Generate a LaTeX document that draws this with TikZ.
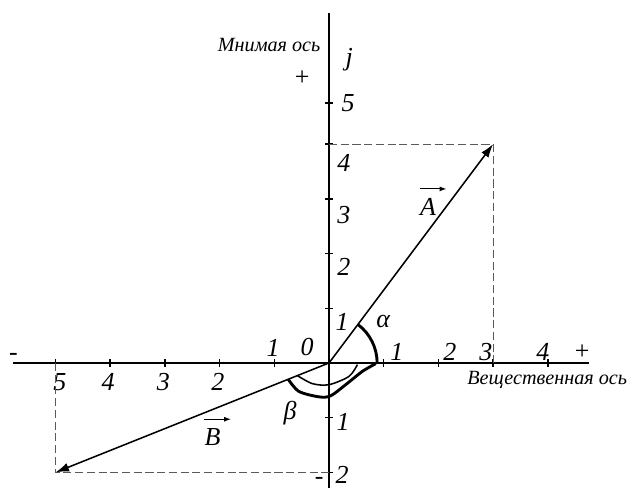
\documentclass[tikz,border=0pt]{standalone}
\usepackage{fontspec}
\setmainfont{Liberation Serif}
\usetikzlibrary{arrows.meta}

\begin{document}
\begin{tikzpicture}[x=1cm,y=1cm,
  axis/.style={black, line width=1pt},
  tickmark/.style={black, line width=0.8pt},
  vect/.style={black, line width=0.8pt, -{Latex[length=7pt,width=4.6pt]}},
  overarr/.style={black, line width=0.5pt, -{Latex[length=3.6pt,width=2.6pt]}},
  proj/.style={black!65, line width=0.5pt, dash pattern=on 4.2pt off 1.9pt},
  anglearc/.style={black, line width=1.5pt},
  num/.style={font=\fontsize{13.5}{15}\selectfont\itshape, inner sep=0pt},
  axname/.style={font=\fontsize{10.5}{12}\selectfont\itshape, inner sep=0pt},
  sgn/.style={font=\fontsize{13.5}{15}\selectfont, inner sep=0pt}]
\useasboundingbox (-6.015,-2.285) rectangle (5.558,6.636);
\coordinate (o) at (0,0);
\coordinate (xl) at (-5.78,0);
\coordinate (xr) at (4.75,0);
\coordinate (yb) at (0,-2.285);
\coordinate (yt) at (0,6.40);
\coordinate (a) at (3,4);
\coordinate (ax) at (3,0);
\coordinate (ay) at (0,4);
\coordinate (b) at (-5,-2);
\coordinate (bx) at (-5,0);
\coordinate (by) at (0,-2);
% axes
\draw[axis] (xl) -- (xr);
\draw[axis] (yb) -- (yt);
\foreach \x in {-5,...,-1,1,2,3,4} \draw[tickmark] (\x,-0.065) -- (\x,0.065);
\foreach \y in {-2,-1,1,2,3,4,4.75} \draw[tickmark] (-0.065,\y) -- (0.065,\y);
\node[axname, anchor=east] (imname) at (-0.15,5.81) {Мнимая ось};
\node[sgn] (implus) at (-0.49,5.21) {+};
\node[num] (jlab) at (0.37,5.54) {j};
\node[axname] (rename) at (3.99,-0.31) {Вещественная ось};
\node[sgn] (replus) at (4.63,0.20) {+};
\node[sgn] (reminus) at (-5.77,0.11) {-};
\node[sgn] (imminus) at (-0.18,-2.15) {-};
% scale numbers
\foreach \v/\p in {1/1.24, 2/2.21, 3/2.87, 4/3.91} \node[num] (xp\v) at (\p,0.20) {\v};
\foreach \v/\p in {5/-4.92, 4/-4.04, 3/-3.03, 2/-2.03} \node[num] (xn\v) at (\p,-0.35) {\v};
\node[num] (xn1) at (-1.02,0.27) {1};
\node[num] (zero) at (-0.40,0.29) {0};
\foreach \v/\px/\py in {5/0.35/4.75, 4/0.27/3.66, 3/0.27/2.71, 2/0.27/1.76, 1/0.24/0.75}
  \node[num] (yp\v) at (\px,\py) {\v};
\node[num] (yn1) at (0.26,-1.08) {1};
\node[num] (yn2) at (0.24,-2.05) {2};
% projections
\draw[proj] (ay) -- (a) -- (ax);
\draw[proj] (bx) -- (b) -- (by);
% vectors
\draw[vect] (o) -- (a);
\draw[vect] (o) -- (b);
\node[num] (alab) at (1.81,2.86) {A};
\draw[overarr] ([yshift=4.5pt]alab.north west) -- ++(0.49,0);
\node[num] (blab) at (-2.13,-1.35) {B};
\draw[overarr] ([yshift=4.5pt]blab.north west) -- ++(0.49,0);
% angles
\draw[anglearc] (0.88,0) arc[start angle=0, end angle=53.13, radius=0.88];
\node[num] (alpha) at (0.99,0.75) {α};
\draw[anglearc] plot[smooth] coordinates {(-0.745,-0.298) (-0.55,-0.52) (-0.18,-0.62) (0.03,-0.60) (0.305,-0.397) (0.61,-0.154) (0.854,-0.013)};
\draw[black, line width=0.8pt] plot[smooth] coordinates {(-0.578,-0.231) (-0.303,-0.378) (0,-0.397) (0.366,-0.245) (0.519,-0.031)};
\node[num] (beta) at (-0.71,-0.91) {β};
\end{tikzpicture}
\end{document}
